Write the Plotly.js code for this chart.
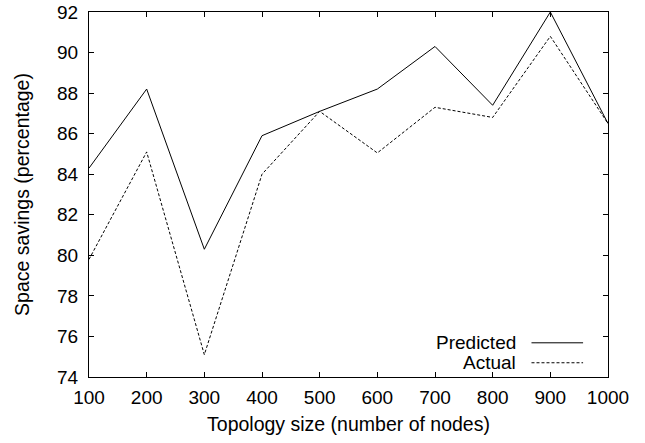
<!DOCTYPE html>
<html>
<head>
<meta charset="utf-8">
<script src="https://cdn.plot.ly/plotly-3.0.1.min.js"></script>
<style>html,body{margin:0;padding:0;background:#fff;}#chart{width:645px;height:443px;}</style>
</head>
<body>
<div id="chart"></div>
<script>
var topologySize = [100, 200, 300, 400, 500, 600, 700, 800, 900, 1000];
var predicted = [84.3, 88.2, 80.3, 85.9, 87.1, 88.2, 90.3, 87.4, 92.0, 86.5];
var actual = [79.8, 85.1, 75.1, 84.0, 87.1, 85.05, 87.3, 86.8, 90.8, 86.5];
var seriesNames = ["Predicted", "Actual"];

var FONT = "Liberation Sans, Arial, Helvetica, sans-serif";
var FS = 19;

var traces = [
  {x: topologySize, y: predicted, type: "scatter", mode: "lines", name: seriesNames[0],
   line: {color: "#000", width: 1}, showlegend: false},
  {x: topologySize, y: actual, type: "scatter", mode: "lines", name: seriesNames[1],
   line: {color: "#000", width: 1, dash: "3px,2px"}, showlegend: false}
];

var axisCommon = {
  showgrid: false, zeroline: false, showline: true, linecolor: "#000", linewidth: 1,
  mirror: "ticks", ticks: "inside", ticklen: 5, tickwidth: 1, tickcolor: "#000",
  tickfont: {family: FONT, size: FS, color: "#000"}
};

var layout = {
  width: 645, height: 443,
  margin: {l: 89, r: 37, t: 12, b: 66},
  paper_bgcolor: "#fff", plot_bgcolor: "#fff",
  xaxis: Object.assign({}, axisCommon, {
    range: [100, 1000], tickmode: "linear", tick0: 100, dtick: 100, ticklabelstandoff: 3,
    title: {text: "Topology size (number of nodes)", font: {family: FONT, size: 19.5, color: "#000"}, standoff: 10}
  }),
  yaxis: Object.assign({}, axisCommon, {
    range: [74, 92], tickmode: "linear", tick0: 74, dtick: 2, ticklabelstandoff: 6,
    title: {text: "Space savings (percentage)", font: {family: FONT, size: 19.5, color: "#000"}, standoff: 22}
  }),
  annotations: [
    {xref: "paper", yref: "paper", x: 0.8265, y: 0.0937, xanchor: "right", yanchor: "middle",
     text: seriesNames[0], showarrow: false, font: {family: FONT, size: FS, color: "#000"}},
    {xref: "paper", yref: "paper", x: 0.8265, y: 0.0390, xanchor: "right", yanchor: "middle",
     text: seriesNames[1], showarrow: false, font: {family: FONT, size: FS, color: "#000"}}
  ],
  shapes: [
    {type: "line", xref: "paper", yref: "paper", x0: 0.8526, x1: 0.9520, y0: 0.0937, y1: 0.0937,
     line: {color: "#000", width: 1}},
    {type: "line", xref: "paper", yref: "paper", x0: 0.8526, x1: 0.9520, y0: 0.0390, y1: 0.0390,
     line: {color: "#000", width: 1, dash: "3px,2px"}}
  ],
  showlegend: false
};

Plotly.newPlot("chart", traces, layout, {displayModeBar: false, staticPlot: true});
</script>
</body>
</html>
